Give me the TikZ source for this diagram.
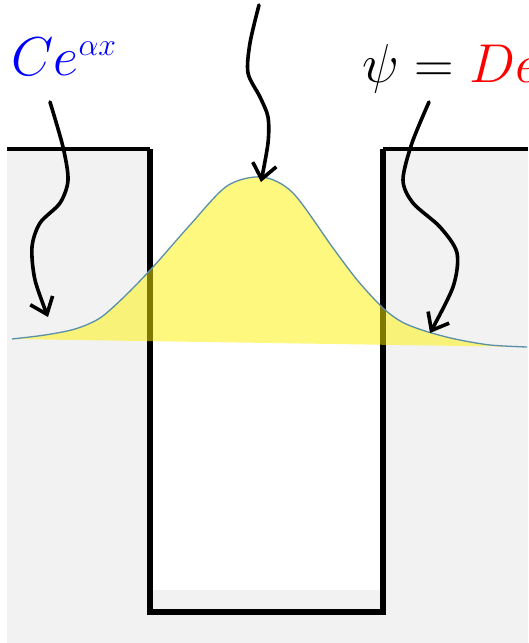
\documentclass[tikz,border=0pt]{standalone}
\usepackage{fontspec}
\usetikzlibrary{calc, positioning}
\usetikzlibrary{arrows.meta}
\definecolor{wallgray}{HTML}{F2F2F2}
\definecolor{wavecol}{HTML}{5A8FAA}
\DeclareMathSizes{24.88}{24.88}{14.4}{12}

\tikzset{
  pointer/.style={line width=3.6pt, line cap=round, -{Straight Barb[length=15pt,width=24pt]}},
  wall/.style={line width=5.5pt},
  rimline/.style={line width=3.5pt},
  eqtext/.style={anchor=base west, inner sep=0pt, scale=2.2, transform shape, font=\fontsize{24.88}{30}\selectfont}
}
\newcommand\wavepts{plot[smooth] coordinates {(12,339) (45,335) (75,329) (100,318) (125,296) (153,267) (190,225) (227,186) (262,177) (293,193) (333,248) (358,281) (383,308) (402,322) (425,331) (455,339) (490,345) (527,347)}}

\begin{document}
\begin{tikzpicture}[x=1pt,y=-1pt]
\useasboundingbox (0,0) rectangle (528,643);
\def\wl{150}
\def\wr{383}
\def\rim{149}
\def\floor{612}
\fill[wallgray] (7,\rim) rectangle (528,643);
\fill[white] (\wl,\rim) rectangle (\wr,590);
\draw[rimline] (7,\rim) -- (\wl,\rim);
\draw[wall] (\wl,\rim) -- (\wl,\floor) -- (\wr,\floor) -- (\wr,\rim);
\draw[rimline] (\wr,\rim) -- (528,\rim);
\fill[yellow, fill opacity=0.5] \wavepts -- cycle;
\draw[wavecol, line width=1.3pt] \wavepts;
\node[eqtext, text=blue] (cexp) at (11,75) {$Ce^{\alpha x}$};
\node[eqtext] (dexp) at (362,82) {$\psi = \color{red}De^{-\alpha x}$};
\coordinate (lstart) at (50,102);
\coordinate (ltip) at (48,317);
\coordinate (mstart) at (259,5);
\coordinate (mtip) at (261,182);
\coordinate (rstart) at (429,102);
\coordinate (rtip) at (430,333);
\draw[pointer] plot[smooth] coordinates {(lstart) (63,147) (68,180) (60,203) (40,223) (32,247) (35,280) (ltip)};
\draw[pointer] plot[smooth] coordinates {(mstart) (250,43) (248,73) (260,97) (268,117) (268,143) (mtip)};
\draw[pointer] plot[smooth] coordinates {(rstart) (412,143) (403,180) (413,203) (440,227) (457,253) (453,287) (rtip)};
\end{tikzpicture}
\end{document}
